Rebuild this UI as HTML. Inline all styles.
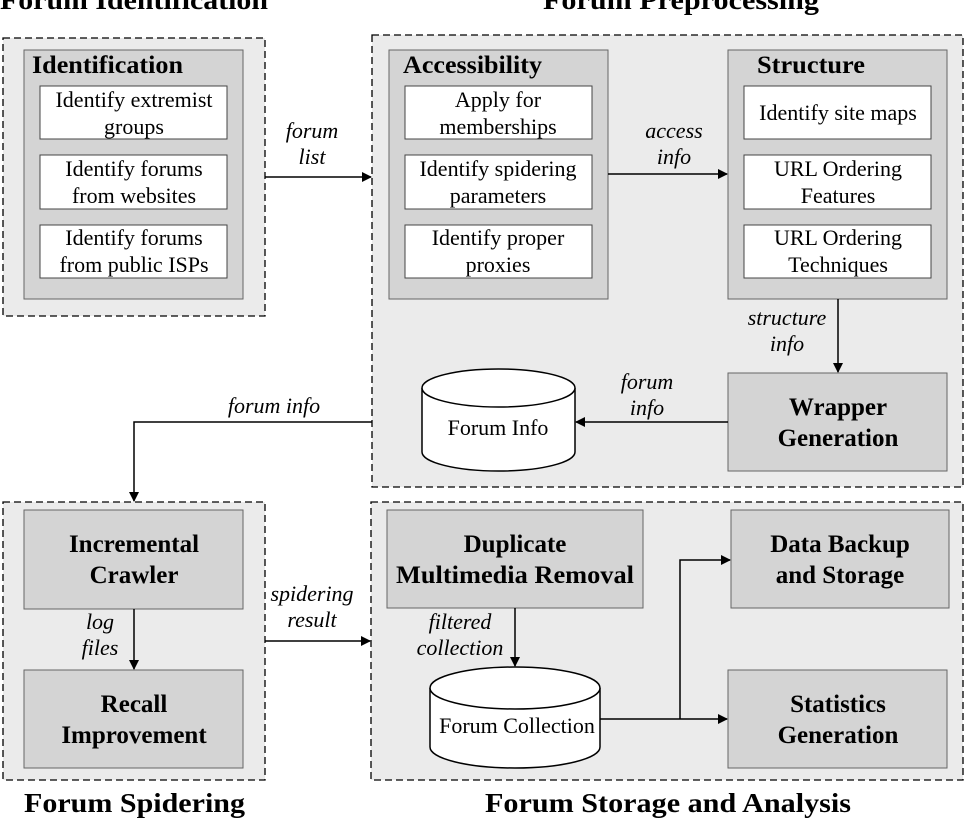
<!DOCTYPE html>
<html><head><meta charset="utf-8"><style>
html,body{margin:0;padding:0;background:#fff;}
svg{display:block;}
text{font-family:"Liberation Serif",serif;fill:#000;}
.t{font-weight:bold;font-size:27px;}
.b{font-weight:bold;font-size:25px;}
.w{font-size:22px;}
.i{font-style:italic;font-size:22px;}
</style></head><body>
<svg width="964" height="820" viewBox="0 0 964 820" xmlns="http://www.w3.org/2000/svg">
<defs><marker id="a" markerWidth="10" markerHeight="10" refX="9" refY="5" orient="auto" markerUnits="userSpaceOnUse"><path d="M0,0 L10,5 L0,10 z" fill="#000"/></marker></defs>
<g fill="#ebebeb" stroke="#000" stroke-width="1.3" stroke-dasharray="7,4">
<rect x="3" y="38" width="262" height="278"/>
<rect x="372" y="35" width="591" height="452"/>
<rect x="3" y="502" width="262" height="278"/>
<rect x="371" y="502" width="592" height="278"/>
</g>
<g fill="#d4d4d4" stroke="#666" stroke-width="1">
<rect x="24" y="50" width="219" height="249"/>
<rect x="389" y="50" width="219" height="249"/>
<rect x="728" y="50" width="219" height="249"/>
<rect x="728" y="373" width="219" height="98"/>
<rect x="24" y="510" width="219" height="99"/>
<rect x="24" y="670" width="219" height="98"/>
<rect x="387" y="510" width="256" height="98"/>
<rect x="731" y="510" width="218" height="98"/>
<rect x="728" y="670" width="219" height="98"/>
</g>
<g fill="#fff" stroke="#444" stroke-width="1">
<rect x="40" y="86" width="187" height="53"/>
<rect x="40" y="155" width="187" height="54"/>
<rect x="40" y="225" width="187" height="53"/>
<rect x="405" y="86" width="187" height="53"/>
<rect x="405" y="155" width="187" height="54"/>
<rect x="405" y="225" width="187" height="53"/>
<rect x="744" y="86" width="187" height="53"/>
<rect x="744" y="155" width="187" height="54"/>
<rect x="744" y="225" width="187" height="53"/>
</g>
<g fill="#fff" stroke="#000" stroke-width="1.5">
<path d="M422,388 L422,452 A76.5,19 0 0 0 575,452 L575,388"/>
<ellipse cx="498.5" cy="388" rx="76.5" ry="19"/>
<path d="M430,688 L430,747 A85,21 0 0 0 600,747 L600,688"/>
<ellipse cx="515" cy="688" rx="85" ry="21"/>
</g>
<g stroke="#000" stroke-width="1.5" fill="none">
<line x1="265" y1="177" x2="371" y2="177" marker-end="url(#a)"/>
<line x1="608" y1="174" x2="727" y2="174" marker-end="url(#a)"/>
<line x1="838" y1="299" x2="838" y2="372" marker-end="url(#a)"/>
<line x1="728" y1="422" x2="576" y2="422" marker-end="url(#a)"/>
<polyline points="372,422 134,422 134,501" marker-end="url(#a)"/>
<line x1="134" y1="609" x2="134" y2="669" marker-end="url(#a)"/>
<line x1="265" y1="641" x2="370" y2="641" marker-end="url(#a)"/>
<line x1="515" y1="608" x2="515" y2="666" marker-end="url(#a)"/>
<line x1="600" y1="719" x2="727" y2="719" marker-end="url(#a)"/>
<polyline points="680,719 680,560 730,560" marker-end="url(#a)"/>
</g>
<text class="t" x="0" y="9" textLength="268" lengthAdjust="spacingAndGlyphs">Forum Identification</text>
<text class="t" x="543" y="9" textLength="276" lengthAdjust="spacingAndGlyphs">Forum Preprocessing</text>
<text class="t" x="24" y="812" textLength="221" lengthAdjust="spacingAndGlyphs">Forum Spidering</text>
<text class="t" x="485" y="812" textLength="366" lengthAdjust="spacingAndGlyphs">Forum Storage and Analysis</text>
<text class="b" x="32" y="73" textLength="151" lengthAdjust="spacingAndGlyphs">Identification</text>
<text class="b" x="403" y="73" textLength="139" lengthAdjust="spacingAndGlyphs">Accessibility</text>
<text class="b" x="757" y="73" textLength="108" lengthAdjust="spacingAndGlyphs">Structure</text>
<text class="b" x="838" y="415" text-anchor="middle">Wrapper</text>
<text class="b" x="838" y="446" text-anchor="middle">Generation</text>
<text class="b" x="134" y="552" text-anchor="middle">Incremental</text>
<text class="b" x="134" y="583" text-anchor="middle">Crawler</text>
<text class="b" x="134" y="712" text-anchor="middle">Recall</text>
<text class="b" x="134" y="743" text-anchor="middle">Improvement</text>
<text class="b" x="515" y="552" text-anchor="middle">Duplicate</text>
<text class="b" x="396" y="583" textLength="238" lengthAdjust="spacingAndGlyphs">Multimedia Removal</text>
<text class="b" x="840" y="552" text-anchor="middle">Data Backup</text>
<text class="b" x="840" y="583" text-anchor="middle">and Storage</text>
<text class="b" x="838" y="712" text-anchor="middle">Statistics</text>
<text class="b" x="838" y="743" text-anchor="middle">Generation</text>
<text class="w" x="134" y="107" text-anchor="middle">Identify extremist</text>
<text class="w" x="134" y="134" text-anchor="middle">groups</text>
<text class="w" x="134" y="176" text-anchor="middle">Identify forums</text>
<text class="w" x="134" y="203" text-anchor="middle">from websites</text>
<text class="w" x="134" y="245" text-anchor="middle">Identify forums</text>
<text class="w" x="134" y="272" text-anchor="middle">from public ISPs</text>
<text class="w" x="498" y="107" text-anchor="middle">Apply for</text>
<text class="w" x="498" y="134" text-anchor="middle">memberships</text>
<text class="w" x="498" y="176" text-anchor="middle">Identify spidering</text>
<text class="w" x="498" y="203" text-anchor="middle">parameters</text>
<text class="w" x="498" y="245" text-anchor="middle">Identify proper</text>
<text class="w" x="498" y="272" text-anchor="middle">proxies</text>
<text class="w" x="838" y="120" text-anchor="middle">Identify site maps</text>
<text class="w" x="838" y="176" text-anchor="middle">URL Ordering</text>
<text class="w" x="838" y="203" text-anchor="middle">Features</text>
<text class="w" x="838" y="245" text-anchor="middle">URL Ordering</text>
<text class="w" x="838" y="272" text-anchor="middle">Techniques</text>
<text class="w" x="498" y="435" text-anchor="middle">Forum Info</text>
<text class="w" x="517" y="733" text-anchor="middle">Forum Collection</text>
<text class="i" x="312" y="138" text-anchor="middle">forum</text>
<text class="i" x="312" y="164" text-anchor="middle">list</text>
<text class="i" x="674" y="138" text-anchor="middle">access</text>
<text class="i" x="674" y="164" text-anchor="middle">info</text>
<text class="i" x="787" y="325" text-anchor="middle">structure</text>
<text class="i" x="787" y="351" text-anchor="middle">info</text>
<text class="i" x="647" y="389" text-anchor="middle">forum</text>
<text class="i" x="647" y="415" text-anchor="middle">info</text>
<text class="i" x="274" y="413" text-anchor="middle">forum info</text>
<text class="i" x="100" y="629" text-anchor="middle">log</text>
<text class="i" x="100" y="655" text-anchor="middle">files</text>
<text class="i" x="312" y="601" text-anchor="middle">spidering</text>
<text class="i" x="312" y="627" text-anchor="middle">result</text>
<text class="i" x="460" y="629" text-anchor="middle">filtered</text>
<text class="i" x="460" y="655" text-anchor="middle">collection</text>
</svg>
</body></html>
